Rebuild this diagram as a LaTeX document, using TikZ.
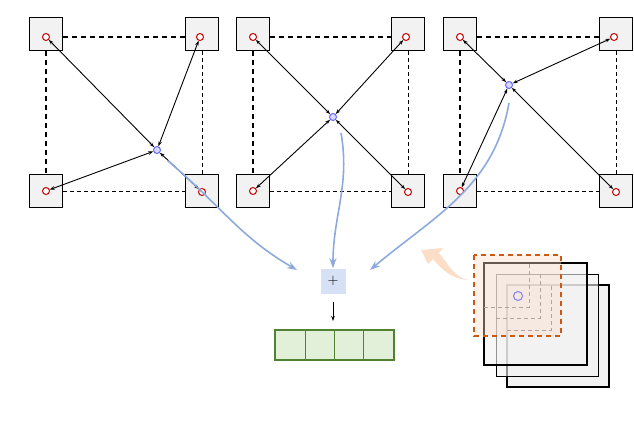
\documentclass[tikz,border=0pt]{standalone}
\usetikzlibrary{arrows.meta}
\definecolor{gdark}{RGB}{80,130,50}
\definecolor{glight}{RGB}{226,239,217}
\definecolor{bline}{RGB}{140,170,220}
\definecolor{bfill}{RGB}{215,225,245}
\definecolor{odark}{RGB}{200,90,20}
\definecolor{olight}{RGB}{250,220,200}
\definecolor{oarrow}{RGB}{252,222,200}
\begin{document}
\begin{tikzpicture}[x=1pt,y=-1pt,
 sq/.style={draw,line width=1.3pt,fill=gray!10,minimum size=33pt,inner sep=0pt},
 rc/.style={circle,draw=red!80!black,line width=1pt,minimum size=7pt,inner sep=0pt,fill=white},
 bc/.style={circle,draw=blue!60,fill=blue!15,line width=1pt,minimum size=7pt,inner sep=0pt},
 ar/.style={{Stealth[length=5pt,width=3.5pt]}-{Stealth[length=5pt,width=3.5pt]},line width=0.9pt},
 thk/.style={dash pattern=on 5pt off 4pt,line width=1.3pt},
 thn/.style={dash pattern=on 4pt off 3pt,line width=0.8pt},
 bl/.style={-{Stealth[length=10pt,width=7pt]},draw=bline,line width=1.6pt}]
\useasboundingbox (0,0) rectangle (634,422);
\foreach \p/\xa/\xb/\bx/\by in {a/46/202/157/150, b/253/408/333/117, c/460/616/509/85}{
 \node[sq] (\p1) at (\xa,34) {};
 \node[sq] (\p2) at (\xb,34) {};
 \node[sq] (\p3) at (\xa,191) {};
 \node[sq] (\p4) at (\xb,191) {};
 \node[rc] (\p r1) at (\xa,37) {};
 \node[rc] (\p r2) at (\xb-2,37) {};
 \node[rc] (\p r3) at (\xa,191) {};
 \node[rc] (\p r4) at (\xb,192) {};
 \node[bc] (\p b) at (\bx,\by) {};
 \draw[thk] (\p1.east |- \p r1) -- (\p2.west |- \p r1);
 \draw[thk] (\p1.south) -- (\p3.north);
 \draw[thn] (\p2.south) -- (\p4.north);
 \draw[thn] (\p3.east |- \p r3) -- (\p4.west |- \p r3);
 \foreach \i in {1,2,3,4}{\draw[ar] (\p b) -- (\p r\i);}
}
\node[fill=bfill,minimum size=25pt,inner sep=0pt,font=\Large] (plus) at (333,281) {$+$};
\coordinate (pa) at (297,270);
\coordinate (pc) at (370,270);
\draw[bl] (ab.south east) ++(8,8) to[out=-40,in=150] (pa);
\draw[bl] (bb.south) ++(8,12) to[out=-80,in=90] (plus.north);
\draw[bl] (cb.south) ++(0,14) to[out=-100,in=40] (pc);
\node[draw=gdark,fill=glight,line width=1.3pt,minimum width=119pt,minimum height=30pt,inner sep=0pt] (bar) at (334.5,345) {};
\foreach \x in {305,334,363}{\draw[gdark,line width=1pt] (\x,330) -- (\x,360);}
\coordinate (s1) at (333,302);
\coordinate (s2) at (333,321);
\draw[-{Stealth[length=5pt,width=3.5pt]},line width=0.9pt] (s1) -- (s2);
% stack
\draw[line width=1.3pt,fill=gray!10] (507,285) rectangle (609,387);
\draw[line width=0.9pt,fill=gray!10,fill opacity=0.6] (496,274) rectangle (598,376);
\draw[line width=1.3pt,fill=gray!10,fill opacity=0.6] (484,263) rectangle (587,365);
\draw[gray,thn,line width=1pt] (484,307) -- (529,307) -- (529,263);
\draw[gray,thn] (496,318) -- (540,318) -- (540,274);
\draw[gray,thn,line width=1pt] (507,330) -- (551,330) -- (551,285);
\draw[draw=odark,line width=1.3pt,fill=olight,fill opacity=0.4,dash pattern=on 5pt off 4pt] (474,255) rectangle (561,336);
\node[circle,draw=blue!50,line width=1pt,minimum size=9pt,inner sep=0pt] (dot) at (518,296) {};
\coordinate (o1) at (468,280);
\coordinate (o2) at (421,250);
\fill[oarrow] (o1) to[out=175,in=-50] (433,259) -- (428,264) -- (o2) -- (443,248) -- (439,253) to[out=-50,in=165] (o1);
\end{tikzpicture}
\end{document}
